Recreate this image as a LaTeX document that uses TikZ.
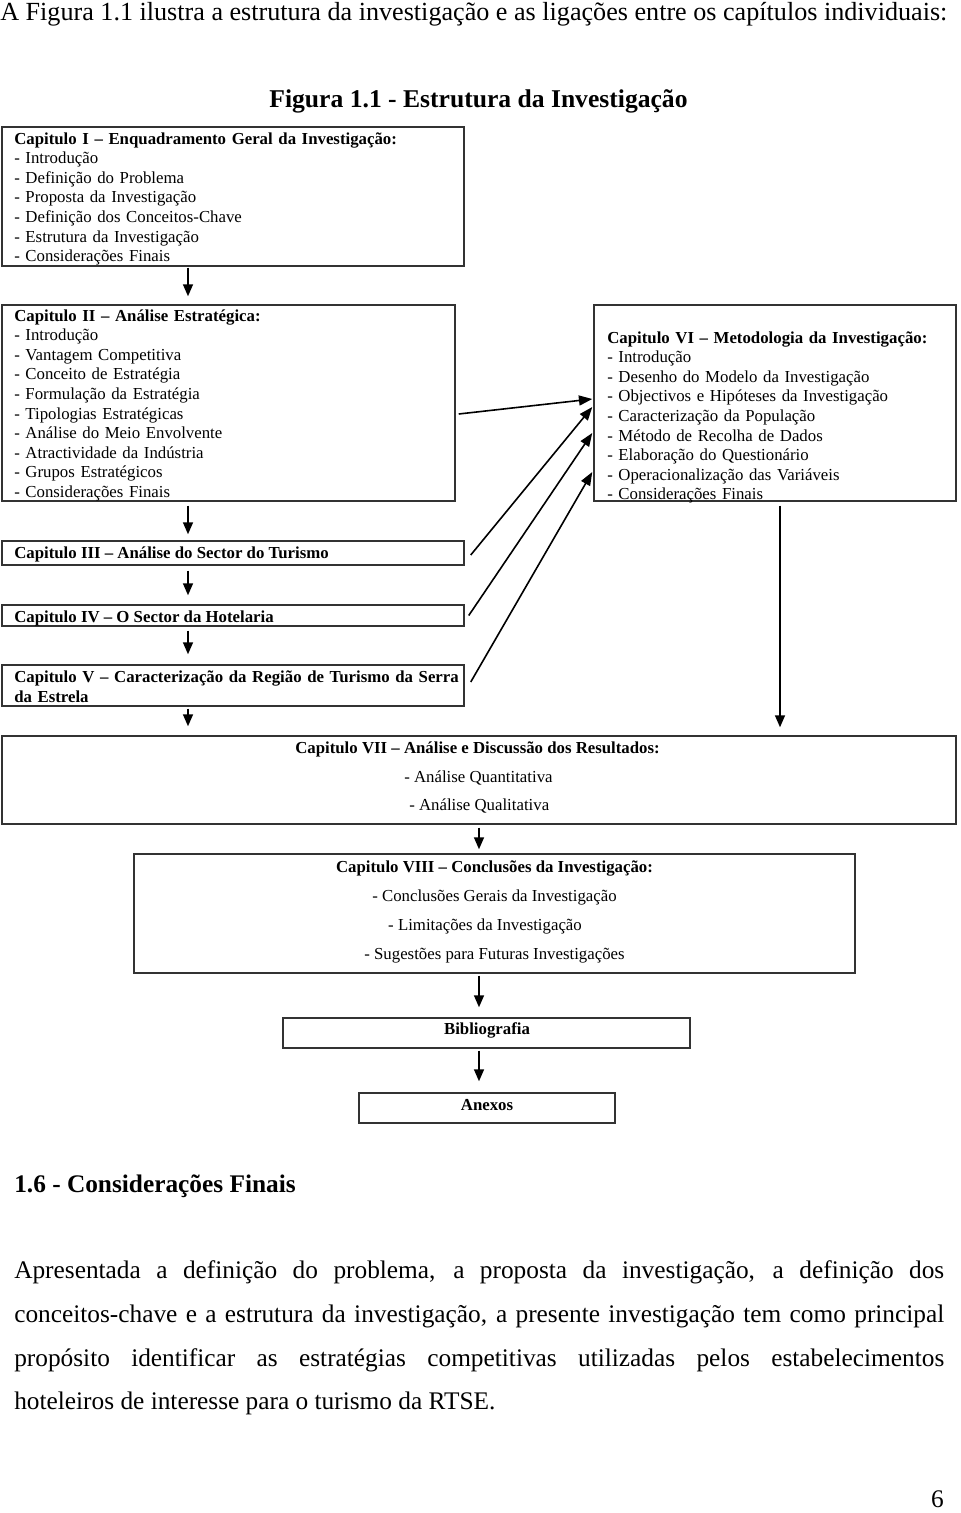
\documentclass[tikz,border=0pt]{standalone}
\usepackage{fontspec}
\setmainfont{Liberation Serif}
\usetikzlibrary{arrows.meta,fit,calc}
\begin{document}
\begin{tikzpicture}[x=0.75pt,y=-0.75pt,
  boxst/.style={draw=black!80, line width=1.1pt, inner sep=0pt, rectangle},
  arr/.style={line width=1.2pt, -{Triangle[length=9pt,width=7.5pt]}},
  diag/.style={line width=1.2pt, -{Triangle[length=10pt,width=7.5pt]}},
  bodyt/.style={inner sep=0pt, font=\fontsize{12.6}{14.7}\selectfont},
  lt/.style={bodyt, anchor=base west, align=left, text width=430pt},
  ct/.style={bodyt, anchor=base},
  wt/.style={bodyt, anchor=base west},
  bigt/.style={inner sep=0pt, font=\fontsize{19}{22}\selectfont}
]
\useasboundingbox (0,0) rectangle (960,1513);

% page text
\node[bigt, anchor=base west, font=\fontsize{19.6}{22}\selectfont] (intro) at (0,21)
  {A Figura 1.1 ilustra a estrutura da investigação e as ligações entre os capítulos individuais:};
\node[bigt, anchor=base, font=\fontsize{19.2}{22}\selectfont\bfseries] (title) at (478.5,108)
  {Figura 1.1 - Estrutura da Investigação};

% boxes
\node[boxst, fit={(2,127) (464,266)}] (c1) {};
\node[boxst, fit={(2,305) (455,501)}] (c2) {};
\node[boxst, fit={(594,305) (956,501)}] (c6) {};
\node[boxst, fit={(2,541) (464,565)}] (c3) {};
\node[boxst, fit={(2,605) (464,626)}] (c4) {};
\node[boxst, fit={(2,665) (464,706)}] (c5) {};
\node[boxst, fit={(2,736) (956,824)}] (c7) {};
\node[boxst, fit={(134,854) (855,973)}] (c8) {};
\node[boxst, fit={(283,1018) (690,1048)}] (bib) {};
\node[boxst, fit={(359,1093) (615,1123)}] (anx) {};

% box texts
\node[lt] (t1) at (14,144) {\textbf{Capitulo I – Enquadramento Geral da Investigação:}\\
- Introdução\\
- Definição do Problema\\
- Proposta da Investigação\\
- Definição dos Conceitos-Chave\\
- Estrutura da Investigação\\
- Considerações Finais};
\node[lt] (t2) at (14,321) {\textbf{Capitulo II – Análise Estratégica:}\\
- Introdução\\
- Vantagem Competitiva\\
- Conceito de Estratégia\\
- Formulação da Estratégia\\
- Tipologias Estratégicas\\
- Análise do Meio Envolvente\\
- Atractividade da Indústria\\
- Grupos Estratégicos\\
- Considerações Finais};
\node[lt, text width=340pt] (t6) at (607,343) {\textbf{Capitulo VI – Metodologia da Investigação:}\\
- Introdução\\
- Desenho do Modelo da Investigação\\
- Objectivos e Hipóteses da Investigação\\
- Caracterização da População\\
- Método de Recolha de Dados\\
- Elaboração do Questionário\\
- Operacionalização das Variáveis\\
- Considerações Finais};
\node[wt] (t3) at (14,558) {\textbf{Capitulo III – Análise do Sector do Turismo}};
\node[wt] (t4) at (14,622) {\textbf{Capitulo IV – O Sector da Hotelaria}};
\node[lt, font=\fontsize{12.6}{15}\selectfont\bfseries] (t5) at (14,682) {Capitulo V – Caracterização da Região de Turismo da Serra\\da Estrela};
\node[wt] (t7a) at (295,753) {\textbf{Capitulo VII – Análise e Discussão dos Resultados:}};
\node[wt] (t7b) at (404,782) {- Análise Quantitativa};
\node[wt] (t7c) at (409,810) {- Análise Qualitativa};
\node[ct] (t8a) at (494.5,872) {\textbf{Capitulo VIII – Conclusões da Investigação:}};
\node[ct] (t8b) at (494.5,901) {- Conclusões Gerais da Investigação};
\node[ct] (t8c) at (485,930) {- Limitações da Investigação};
\node[ct] (t8d) at (494.5,959) {- Sugestões para Futuras Investigações};
\node[ct] (tb) at (487,1034) {\textbf{Bibliografia}};
\node[ct] (ta) at (487,1110) {\textbf{Anexos}};

% vertical connectors
\coordinate (colL) at (188,0);
\coordinate (colR) at (780,0);
\coordinate (colM) at (479,0);
\draw[arr, shorten <=0.75pt, shorten >=6pt] (c1.south -| colL) -- (c2.north -| colL);
\draw[arr, shorten <=3pt, shorten >=4.5pt] (c2.south -| colL) -- (c3.north -| colL);
\draw[arr, shorten <=3.75pt, shorten >=6.75pt] (c3.south -| colL) -- (c4.north -| colL);
\draw[arr, shorten <=3pt, shorten >=7.5pt] (c4.south -| colL) -- (c5.north -| colL);
\draw[arr, shorten <=1.5pt, shorten >=6.75pt] (c5.south -| colL) -- (c7.north -| colL);
\draw[arr, shorten <=3pt, shorten >=6pt] (c6.south -| colR) -- (c7.north -| colR);
\draw[arr, shorten <=2.25pt, shorten >=3pt] (c7.south -| colM) -- (c8.north -| colM);
\draw[arr, shorten <=1.5pt, shorten >=7.5pt] (c8.south -| colM) -- (bib.north -| colM);
\draw[arr, shorten <=1.5pt, shorten >=8.25pt] (bib.south -| colM) -- (anx.north -| colM);

% diagonal connectors into Capitulo VI
\draw[diag] ([shift={(3,11)}]c2.east) -- ([shift={(-1,-4)}]c6.west);
\draw[diag] ([shift={(6,2)}]c3.east) -- ([shift={(-1,4)}]c6.west);
\draw[diag] ([shift={(4,0)}]c4.east) -- ([shift={(-1,30)}]c6.west);
\draw[diag] ([shift={(6,-3.5)}]c5.east) -- ([shift={(-1,69)}]c6.west);

% section text below
\node[bigt, anchor=base west, font=\fontsize{19}{22}\selectfont\bfseries] (sec) at (14,1192) {1.6 - Considerações Finais};
\node[bigt, anchor=base west] (p1) at (14,1278) {\makebox[697.5pt][s]{Apresentada a definição do problema, a proposta da investigação, a definição dos}};
\node[bigt, anchor=base west] (p2) at (14,1322) {\makebox[697.5pt][s]{conceitos-chave e a estrutura da investigação, a presente investigação tem como principal}};
\node[bigt, anchor=base west] (p3) at (14,1366) {\makebox[697.5pt][s]{propósito identificar as estratégias competitivas utilizadas pelos estabelecimentos}};
\node[bigt, anchor=base west] (p4) at (14,1409) {hoteleiros de interesse para o turismo da RTSE.};
\node[bigt, anchor=base east] (pg) at (944,1507) {6};
\end{tikzpicture}
\end{document}
